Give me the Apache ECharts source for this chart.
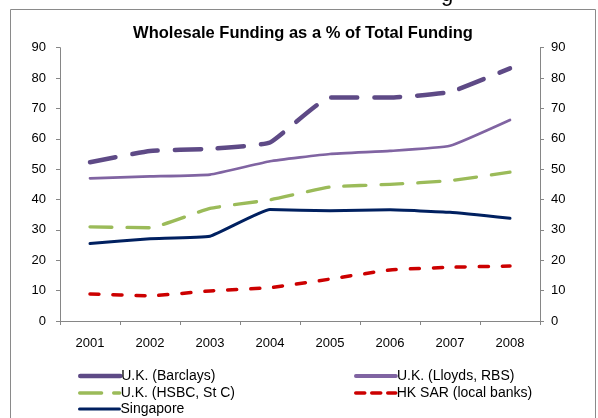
<!DOCTYPE html>
<html><head><meta charset="utf-8">
<script src="https://cdn.jsdelivr.net/npm/echarts@6/dist/echarts.min.js"></script>
<style>html,body{margin:0;padding:0;background:#fff}#c{width:598px;height:418px}</style>
</head><body><div id="c"></div>
<script>
const years = ['2001','2002','2003','2004','2005','2006','2007','2008'];
const barclays = [52.3, 56.0, 56.7, 58.8, 73.6, 73.6, 75.4, 83.2];
const lloyds = [47.0, 47.6, 48.2, 52.6, 55.0, 56.0, 57.7, 66.2];
const hsbc = [31.0, 30.7, 37.1, 39.9, 44.1, 45.0, 46.2, 49.0];
const hk = [8.9, 8.3, 9.9, 11.0, 13.8, 16.8, 17.7, 18.1];
const singapore = [25.5, 27.1, 27.9, 36.7, 36.3, 36.6, 35.8, 33.8];
const yTicks = [0, 90, 10];

const chart = echarts.init(document.getElementById('c'), null, {renderer: 'canvas'});
const font = 'Liberation Sans, Arial, sans-serif';
function yAx(pos) {
  return {
    type: 'value', position: pos, min: yTicks[0], max: yTicks[1], interval: yTicks[2],
    axisLine: {show: true, lineStyle: {color: '#868686', width: 1}},
    axisTick: {show: true, inside: false, length: 4, lineStyle: {color: '#868686'}},
    splitLine: {show: false},
    axisLabel: {color: '#000', fontSize: 13, fontFamily: font, margin: pos === 'left' ? 14 : 11}
  };
}
function ln(name, data, color, width, dash) {
  return {
    name, type: 'line', data, smooth: 0.12, showSymbol: false, symbol: 'none',
    lineStyle: {color, width, type: dash || 'solid', cap: 'round', join: 'round'},
    itemStyle: {color}, z: 2
  };
}
function lg(name, left, top, lw, dash) {
  return {
    left, top, orient: 'vertical', itemWidth: 40, itemHeight: 12, itemGap: 0,
    data: [name], itemStyle: {opacity: 0},
    lineStyle: {width: lw, type: dash || 'solid', cap: 'round'},
    textStyle: {fontSize: 14, fontFamily: font, color: '#000', padding: [0,0,0,-4]}
  };
}
chart.setOption({
  animation: false,
  backgroundColor: '#fff',
  title: {
    text: 'Wholesale Funding as a % of Total Funding', left: 298, textAlign: 'center', top: 20,
    textStyle: {fontSize: 16.5, fontWeight: 'bold', color: '#000', fontFamily: font}
  },
  grid: {left: 60, right: 58, top: 47.7, bottom: 97, containLabel: false},
  xAxis: {
    type: 'category', data: years, boundaryGap: true,
    axisLine: {lineStyle: {color: '#868686'}},
    axisTick: {show: true, length: 4, alignWithLabel: false, lineStyle: {color: '#868686'}},
    axisLabel: {color: '#000', fontSize: 13, fontFamily: font, margin: 16}
  },
  yAxis: [yAx('left'), yAx('right')],
  legend: [
    lg('U.K. (Barclays)', 73, 364, 4.5),
    lg('U.K. (HSBC, St C)', 73, 381, 3.3, [22, 12]),
    lg('Singapore', 73, 397, 3),
    lg('U.K. (Lloyds, RBS)', 349, 364, 3.8),
    lg('HK SAR (local banks)', 349, 381, 3.5, [9, 7])
  ],
  graphic: [
    {type: 'rect', shape: {x: 10.5, y: 9.5, width: 585, height: 430}, style: {fill: 'none', stroke: '#8a8a8a', lineWidth: 1}, silent: true, z: -1},
    {type: 'text', x: 441, y: -16, style: {text: 'g', fontSize: 22, fontFamily: font, fill: '#000'}, silent: true}
  ],
  series: [
    ln('U.K. (Barclays)', barclays, '#5E4A86', 4.5, [26, 17]),
    ln('U.K. (Lloyds, RBS)', lloyds, '#8064A2', 2.7),
    ln('U.K. (HSBC, St C)', hsbc, '#9BBB59', 3.3, [22, 15]),
    ln('HK SAR (local banks)', hk, '#CC0000', 3.5, [9, 14]),
    ln('Singapore', singapore, '#002060', 3)
  ]
});
</script></body></html>
